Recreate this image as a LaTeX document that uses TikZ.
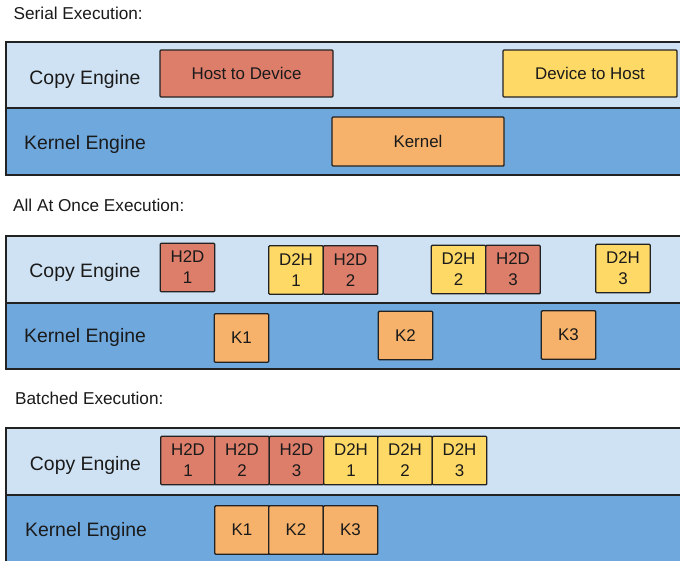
\documentclass[tikz,border=0pt]{standalone}
\usepackage{fontspec}
\setmainfont{Liberation Sans}
\definecolor{lanecopy}{HTML}{CFE2F3}
\definecolor{lanekern}{HTML}{6FA8DC}
\definecolor{hostdev}{HTML}{DD7E6B}
\definecolor{devhost}{HTML}{FFD966}
\definecolor{kern}{HTML}{F6B26B}
\definecolor{edge}{HTML}{222222}
\definecolor{ink}{HTML}{1A1A1A}
\begin{document}
\begin{tikzpicture}[x=1pt,y=-1pt,
  lane/.style={draw=edge,line width=1.4pt},
  title/.style={anchor=base west,inner sep=0pt,text=ink,font=\fontsize{17.2}{20}\selectfont},
  engine/.style={anchor=base,inner sep=0pt,text=ink,font=\fontsize{19.4}{22}\selectfont},
  task/.style={draw=edge,line width=1.4pt,rounded corners=1pt,inner sep=0pt,
    align=center,text=ink,font=\fontsize{16.9}{21}\selectfont},
  h2d/.style={task,fill=hostdev},
  d2h/.style={task,fill=devhost},
  krn/.style={task,fill=kern},
  sq/.style={minimum width=54.5pt,minimum height=48.5pt}]
\clip (0,0) rectangle (680,560);
\fill[white] (0,0) rectangle (680,560);

% ---------- Serial execution ----------
\node[title] (t1) at (13.5,19) {Serial Execution:};
\draw[lane,fill=lanecopy] (6,42) rectangle (690,108);
\draw[lane,fill=lanekern] (6,108) rectangle (690,175);
\node[engine] (c1) at (85,84) {Copy Engine};
\node[engine] (k1) at (85,149) {Kernel Engine};
\node[h2d,minimum width=173pt,minimum height=47pt] (s-h2d) at (246.5,73.5) {Host to Device};
\node[d2h,minimum width=174pt,minimum height=47pt] (s-d2h) at (590,73.5) {Device to Host};
\node[krn,minimum width=172pt,minimum height=49pt] (s-k) at (418,141.5) {Kernel};

% ---------- All at once execution ----------
\node[title] (t2) at (13,211) {All At Once Execution:};
\draw[lane,fill=lanecopy] (6,236) rectangle (690,303);
\draw[lane,fill=lanekern] (6,303) rectangle (690,369);
\node[engine] (c2) at (85,277) {Copy Engine};
\node[engine] (k2) at (85,342) {Kernel Engine};
\node[h2d,sq] (a-h1) at (187.5,267.5) {H2D\\1};
\node[d2h,sq] (a-d1) at (296,270) {D2H\\1};
\node[h2d,sq] (a-h2) at (350.5,270) {H2D\\2};
\node[d2h,sq] (a-d2) at (458.5,269.5) {D2H\\2};
\node[h2d,sq] (a-h3) at (513,269.5) {H2D\\3};
\node[d2h,sq] (a-d3) at (623,268.5) {D2H\\3};
\node[krn,sq] (a-k1) at (241.5,338) {K1};
\node[krn,sq] (a-k2) at (405.5,335.5) {K2};
\node[krn,sq] (a-k3) at (568.5,335) {K3};

% ---------- Batched execution ----------
\node[title] (t3) at (15,404) {Batched Execution:};
\draw[lane,fill=lanecopy] (6,428) rectangle (690,495);
\draw[lane,fill=lanekern] (6,495) rectangle (690,565);
\node[engine] (c3) at (85.5,470) {Copy Engine};
\node[engine] (k3) at (86,536) {Kernel Engine};
\node[h2d,sq] (b-h1) at (188,460.5) {H2D\\1};
\node[h2d,sq] (b-h2) at (242,460.5) {H2D\\2};
\node[h2d,sq] (b-h3) at (296.5,460.5) {H2D\\3};
\node[d2h,sq] (b-d1) at (351,460.5) {D2H\\1};
\node[d2h,sq] (b-d2) at (405,460.5) {D2H\\2};
\node[d2h,sq] (b-d3) at (459.5,460.5) {D2H\\3};
\node[krn,sq] (b-k1) at (242,530) {K1};
\node[krn,sq] (b-k2) at (296,530) {K2};
\node[krn,sq] (b-k3) at (350.5,530) {K3};
\end{tikzpicture}
\end{document}
